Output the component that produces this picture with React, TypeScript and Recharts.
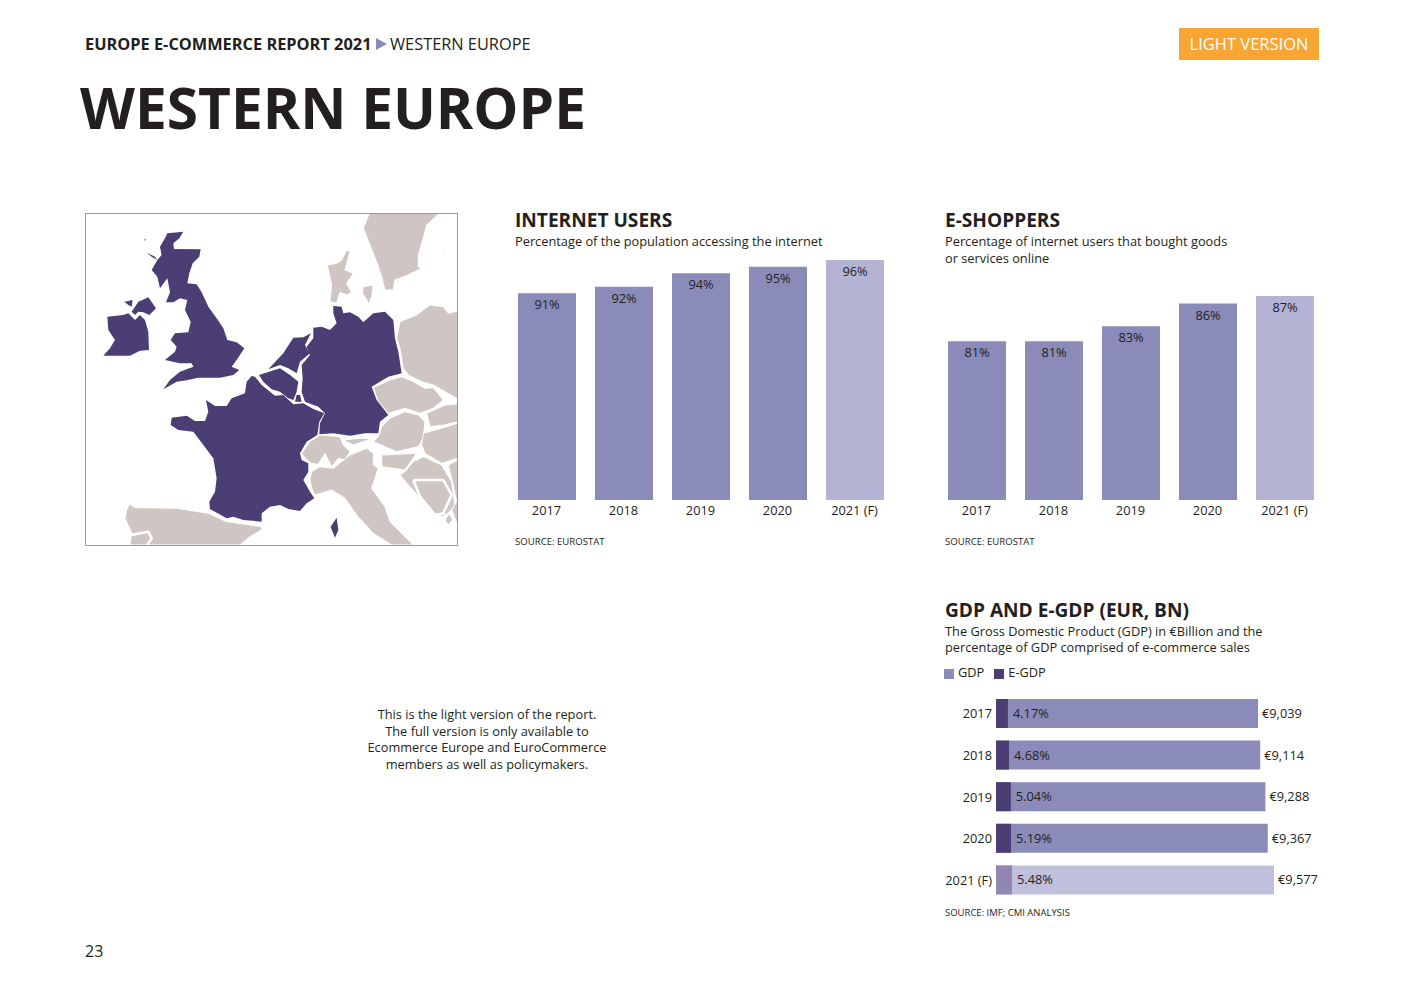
import { BarChart, Bar, XAxis, YAxis, Cell, LabelList, Legend } from "recharts";

const years = ["2017", "2018", "2019", "2020", "2021 (F)"];
const internetUsers = [91, 92, 94, 95, 96];
const eShoppers = [81, 81, 83, 86, 87];
const gdp = [9039, 9114, 9288, 9367, 9577];
const eGdp = [400, 437, 500, 505, 538];
const eGdpShare = [4.17, 4.68, 5.04, 5.19, 5.48];
const bodyLines = [
  "This is the light version of the report.",
  "The full version is only available to",
  "Ecommerce Europe and EuroCommerce",
  "members as well as policymakers.",
];

const internetData = years.map((year, i) => ({ year, value: internetUsers[i] }));
const shopperData = years.map((year, i) => ({ year, value: eShoppers[i] }));
const gdpData = years.map((year, i) => ({ year, gdp: gdp[i], egdp: eGdp[i], share: eGdpShare[i] }));

const FONT = "'Open Sans', sans-serif";
const INK = "#231f20";
const PURPLE = "#8b8bba";
const PURPLE_LIGHT = "#b5b3d4";
const GDP_LIGHT = "#c0bfdc";
const DARK = "#4a3e74";
const DARK_LIGHT = "#9286b5";
const GREY = "#cfc6c3";
const SMALL = 12.8;

// map outlines, traced by hand (drawn at 3x, scaled down in the svg)
const darkShapes = [
  "262,85 310,80 298,100 280,115 282,132 362,133 358,155 338,175 328,205 322,235 350,238 365,262 385,305 410,340 430,370 442,405 470,412 493,430 470,465 455,485 478,495 460,510 420,518 385,518 355,518 320,526 290,530 250,553 270,525 300,500 340,485 335,475 300,475 255,465 285,440 290,425 272,405 285,385 325,382 332,350 315,315 322,285 300,280 280,292 258,292 270,262 262,220 240,250 232,215 215,195 232,165 245,150 240,125 255,100",
  "192,105 198,100 195,107",
  "200,143 225,155 232,165 215,155",
  "133,290 158,285 155,305 145,300",
  "155,320 175,290 205,277 228,310 208,330 190,322 175,320 165,330",
  "82,335 130,330 145,325 165,345 180,330 195,345 205,380 207,435 180,437 150,452 70,452 90,430 105,405 85,375",
  "515,513 525,515 545,540 585,572 610,570 640,598 670,595 700,612 733,625 718,650 712,690 680,710 660,745 665,765 685,775 685,800 670,825 690,860 703,880 680,895 660,918 625,912 600,900 570,905 545,925 545,950 490,945 460,935 440,940 390,912 388,890 405,860 410,820 400,760 370,720 340,680 295,675 272,660 275,638 320,632 345,648 375,648 385,620 378,585 405,603 440,603 455,580 495,565 500,530",
  "760,303 785,305 790,325 810,322 835,335 850,352 880,325 915,320 940,345 945,400 955,440 965,505 925,515 875,545 890,585 925,630 900,650 895,685 855,685 810,692 760,685 718,688 720,655 735,625 715,605 675,590 665,560 668,520 665,480 690,450 680,425 700,400 700,368 725,365 750,375 770,355 760,325",
  "565,493 610,445 640,398 670,397 693,385 675,420 690,445 660,470 650,505 625,490 600,480",
  "537,510 600,490 630,510 655,530 650,560 640,585 625,580 600,560 575,553 550,530",
  "650,570 660,570 665,590 645,590",
  "770,938 775,975 765,998 752,965",
];
const greyShapes = [
  "148,897 165,908 290,910 385,925 440,950 545,965 545,975 510,995 480,1020 150,1020 155,985 135,940 140,915",
  "868,25 1078,25 1040,60 1030,100 1015,150 1015,185 1025,190 985,210 945,225 940,255 915,255 905,215 890,170 870,120 850,70",
  "800,135 810,140 795,195 820,205 800,235 815,262 800,270 780,262 770,295 750,290 755,240 742,180 770,175 785,165",
  "850,245 880,240 875,275 868,298 848,265",
  "1087,150 1100,128 1095,145",
  "960,350 1010,330 1050,300 1090,305 1105,325 1133,318 1133,582 1095,560 1060,540 1025,530 985,510 970,490 960,430 950,400",
  "880,548 930,525 965,515 1000,530 1035,550 1060,548 1090,585 1060,610 1020,625 975,610 925,625 895,590",
  "1040,625 1095,600 1133,597 1133,650 1095,660 1050,665",
  "905,665 930,640 975,620 1015,630 1035,650 1030,700 1015,725 950,740 880,710 895,695",
  "1030,685 1100,665 1133,655 1133,760 1085,775 1035,745 1025,720",
  "665,745 690,710 720,690 780,695 790,720 810,740 795,765 775,760 755,785 735,745 715,778 695,775 680,765",
  "790,705 840,700 880,700 820,720",
  "695,800 720,785 760,790 810,750 860,730 880,745 880,780 895,790 875,850 915,905 930,950 985,1005 1000,1020 935,1020 880,985 830,930 795,880 755,855 705,870 695,850 690,825",
  "905,750 1010,745 975,795 905,785",
  "1000,770 1030,755 1085,780 1115,830 1125,900 1105,925 1085,935 1040,900 985,840 960,810 975,800",
  "1105,780 1133,765 1133,960 1115,915 1130,890 1115,820",
  "1095,945 1108,925 1118,945 1105,960",
];

function MapBox() {
  return (
    <svg width={1403} height={992} style={{ position: "absolute", left: 0, top: 0 }}>
      <defs>
        <clipPath id="mapClip">
          <rect x={85} y={213} width={373} height={333} />
        </clipPath>
      </defs>
      <g clipPath="url(#mapClip)">
        <g transform="translate(80 205) scale(0.3333)">
          {greyShapes.map((s, i) => (
            <polygon key={i} points={s} fill={GREY} stroke="#fff" strokeWidth={3} />
          ))}
          <polyline points="1000,825 1090,825 1115,870 1090,925 1065,930 1020,875 1000,825" fill={GREY} stroke="#fff" strokeWidth={8} />
          <polyline points="152,990 205,980 215,1000 200,1022" fill="none" stroke="#fff" strokeWidth={8} />
          {darkShapes.map((s, i) => (
            <polygon key={i} points={s} fill={DARK} />
          ))}
        </g>
      </g>
      <rect x={85.5} y={213.5} width={372} height={332} fill="none" stroke="#999" />
    </svg>
  );
}

function Txt({ x, y, size, bold, children, color }: any) {
  return (
    <div
      style={{
        position: "absolute",
        left: x,
        top: y,
        fontSize: size,
        fontWeight: bold ? 700 : 400,
        color: color || INK,
        lineHeight: 1,
        whiteSpace: "nowrap",
      }}
    >
      {children}
    </div>
  );
}

function ColumnChart({ data, left, domainMax, marginTop }: any) {
  return (
    <div style={{ position: "absolute", left, top: 250 }}>
      <BarChart
        width={385}
        height={280}
        data={data}
        margin={{ top: marginTop, right: 0, bottom: 0, left: 0 }}
        barCategoryGap={19}
      >
        <XAxis
          dataKey="year"
          axisLine={false}
          tickLine={false}
          tickSize={0}
          tickMargin={6}
          height={30}
          interval={0}
          tick={{ fill: INK, fontSize: SMALL, fontFamily: FONT }}
        />
        <YAxis hide domain={[60, domainMax]} />
        <Bar dataKey="value" barSize={58} fill={PURPLE} isAnimationActive={false}>
          {data.map((_: any, i: number) => (
            <Cell key={i} fill={i === 4 ? PURPLE_LIGHT : PURPLE} />
          ))}
          <LabelList
            dataKey="value"
            position="insideTop"
            offset={7}
            formatter={(v: any) => `${v}%`}
            style={{ fill: INK, fontSize: SMALL, fontFamily: FONT }}
          />
        </Bar>
      </BarChart>
    </div>
  );
}

function GdpChart() {
  return (
    <div style={{ position: "absolute", left: 936, top: 660 }}>
      <BarChart
        width={390}
        height={250}
        data={gdpData}
        layout="vertical"
        margin={{ top: 15, right: 52, bottom: 9, left: 0 }}
      >
        <XAxis xAxisId="gdp" type="number" hide domain={[230, 9577]} />
        <XAxis xAxisId="egdp" type="number" hide domain={[0, 9347]} />
        <YAxis
          yAxisId="main"
          type="category"
          dataKey="year"
          width={60}
          axisLine={false}
          tickLine={false}
          tickSize={0}
          tickMargin={4}
          interval={0}
          tick={{ fill: INK, fontSize: SMALL, fontFamily: FONT }}
        />
        <YAxis yAxisId="over" type="category" dataKey="year" hide />
        <Legend
          verticalAlign="top"
          align="left"
          iconType="square"
          iconSize={10}
          itemSorter={null}
          wrapperStyle={{ left: 8, top: 3, fontSize: SMALL, fontFamily: FONT }}
          formatter={(v: any) => <span style={{ color: INK }}>{v}</span>}
        />
        <Bar name="GDP" dataKey="gdp" xAxisId="gdp" yAxisId="main" barSize={29} fill={PURPLE} isAnimationActive={false}>
          {gdpData.map((_, i) => (
            <Cell key={i} fill={i === 4 ? GDP_LIGHT : PURPLE} />
          ))}
          <LabelList
            dataKey="gdp"
            position="right"
            offset={4}
            formatter={(v: any) => `€${v.toLocaleString("en-US")}`}
            style={{ fill: INK, fontSize: SMALL, fontFamily: FONT }}
          />
        </Bar>
        <Bar name="E-GDP" dataKey="egdp" xAxisId="egdp" yAxisId="over" barSize={29} fill={DARK} isAnimationActive={false}>
          {gdpData.map((_, i) => (
            <Cell key={i} fill={i === 4 ? DARK_LIGHT : DARK} />
          ))}
          <LabelList
            dataKey="share"
            position="right"
            offset={5}
            formatter={(v: any) => `${v.toFixed(2)}%`}
            style={{ fill: INK, fontSize: SMALL, fontFamily: FONT }}
          />
        </Bar>
      </BarChart>
    </div>
  );
}

export default function App() {
  return (
    <div
      style={{
        position: "absolute",
        left: 0,
        top: 0,
        width: 1403,
        height: 992,
        overflow: "hidden",
        background: "#fff",
        fontFamily: FONT,
      }}
    >
      <Txt x={85} y={36} size={16.35} bold>EUROPE E-COMMERCE REPORT 2021</Txt>
      <svg width={12} height={14} style={{ position: "absolute", left: 376, top: 37 }}>
        <polygon points="0,1 11,7 0,13" fill={PURPLE} />
      </svg>
      <Txt x={390} y={36} size={16.35}>WESTERN EUROPE</Txt>
      <div
        style={{
          position: "absolute",
          left: 1179,
          top: 28,
          width: 140,
          height: 32,
          background: "#f9a533",
          color: "#fff",
          fontSize: 16.5,
          lineHeight: "32px",
          textAlign: "center",
        }}
      >
        LIGHT VERSION
      </div>
      <Txt x={80} y={79} size={56.8} bold>WESTERN EUROPE</Txt>

      <MapBox />

      <Txt x={515} y={211} size={19.1} bold>INTERNET USERS</Txt>
      <Txt x={515} y={235} size={SMALL}>Percentage of the population accessing the internet</Txt>
      <ColumnChart data={internetData} left={508} domainMax={96} marginTop={10} />
      <Txt x={515} y={537} size={9.6}>SOURCE: EUROSTAT</Txt>

      <Txt x={945} y={211} size={19.1} bold>E-SHOPPERS</Txt>
      <Txt x={945} y={235} size={SMALL}>Percentage of internet users that bought goods</Txt>
      <Txt x={945} y={252} size={SMALL}>or services online</Txt>
      <ColumnChart data={shopperData} left={938} domainMax={87} marginTop={46} />
      <Txt x={945} y={537} size={9.6}>SOURCE: EUROSTAT</Txt>

      <Txt x={945} y={601} size={19.1} bold>GDP AND E-GDP (EUR, BN)</Txt>
      <Txt x={945} y={625} size={SMALL}>The Gross Domestic Product (GDP) in €Billion and the</Txt>
      <Txt x={945} y={641} size={SMALL}>percentage of GDP comprised of e-commerce sales</Txt>
      <GdpChart />
      <Txt x={945} y={908} size={9.5}>SOURCE: IMF; CMI ANALYSIS</Txt>

      <div
        style={{
          position: "absolute",
          left: 287,
          top: 706,
          width: 400,
          textAlign: "center",
          fontSize: SMALL,
          lineHeight: "16.7px",
          color: INK,
        }}
      >
        {bodyLines.map((line) => (
          <div key={line}>{line}</div>
        ))}
      </div>

      <Txt x={85} y={943} size={16}>23</Txt>
    </div>
  );
}
